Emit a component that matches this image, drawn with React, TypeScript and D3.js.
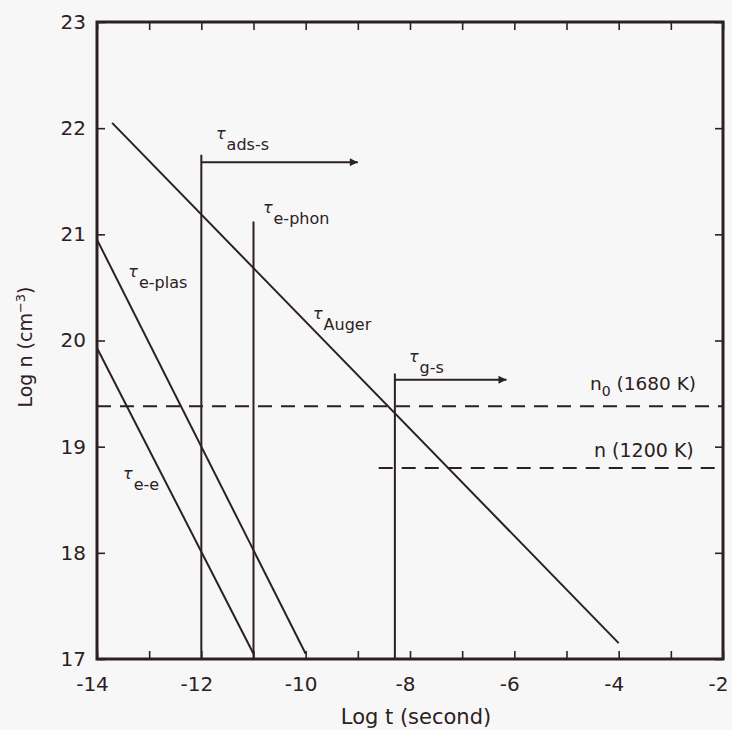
import React, { useEffect, useRef } from 'react';
import * as d3 from 'd3';

// sloped lifetime lines [logT, logN]
const augerLine = [[-13.71, 22.05], [-4, 17.15]];
const ePlasLine = [[-14, 20.95], [-10, 17.05]];
const eeLine = [[-14, 19.93], [-11, 17.05]];

// vertical markers: x position and top
const verticals = [
  { name: 'ads-s', x: -12, top: 21.75 },
  { name: 'e-phon', x: -11, top: 21.12 },
  { name: 'g-s', x: -8.29, top: 19.69 },
];

// arrows to the right
const arrows = [
  { name: 'ads-s', x0: -12, x1: -9.0, y: 21.68 },
  { name: 'g-s', x0: -8.29, x1: -6.15, y: 19.63 },
];

// dashed equilibrium densities
const dashed = [
  { name: 'n0', x0: -14, x1: -2, y: 19.38 },
  { name: 'n1200', x0: -8.6, x1: -2, y: 18.8 },
];

// tau labels: anchor in data space
const tauLabels = [
  { sub: 'ads-s', x: -11.72, y: 21.9 },
  { sub: 'e-phon', x: -10.82, y: 21.2 },
  { sub: 'e-plas', x: -13.4, y: 20.6 },
  { sub: 'e-e', x: -13.5, y: 18.7 },
  { sub: 'Auger', x: -9.86, y: 20.2 },
  { sub: 'g-s', x: -8.02, y: 19.8 },
];

const xTicks = [-14, -12, -10, -8, -6, -4, -2];
const xMinor = d3.range(-14, -1, 1);
const yTicks = [17, 18, 19, 20, 21, 22, 23];

const ink = '#2b2122';

function Chart() {
  const ref = useRef<SVGSVGElement>(null);

  useEffect(() => {
    const svg = d3.select(ref.current);
    svg.selectAll('*').remove();

    const x = d3.scaleLinear().domain([-14, -2]).range([97, 723]);
    const y = d3.scaleLinear().domain([17, 23]).range([659, 22]);
    const font = "'DejaVu Sans', sans-serif";

    // Axes, ticks inward
    const bottom = svg.append('g')
      .attr('transform', `translate(0, ${y(17)})`)
      .call(d3.axisBottom(x).tickValues(xMinor).tickSize(-8).tickPadding(18)
        .tickFormat((d) => (xTicks.includes(+d) ? String(d) : '')));

    const top = svg.append('g')
      .attr('transform', `translate(0, ${y(23)})`)
      .call(d3.axisTop(x).tickValues(xMinor).tickSize(-8).tickFormat(() => ''));

    const left = svg.append('g')
      .attr('transform', `translate(${x(-14)}, 0)`)
      .call(d3.axisLeft(y).tickValues(yTicks).tickSize(-8).tickPadding(11)
        .tickFormat((d) => String(d)));

    const right = svg.append('g')
      .attr('transform', `translate(${x(-2)}, 0)`)
      .call(d3.axisRight(y).tickValues(yTicks).tickSize(-8).tickFormat(() => ''));

    [bottom, top, left, right].forEach((g) => {
      g.select('.domain').remove();
      g.selectAll('line').attr('stroke', ink).attr('stroke-width', 1.6);
      g.selectAll('text').attr('fill', ink).style('font-family', font).style('font-size', '20px');
    });
    bottom.selectAll('text').attr('dx', -5);

    // frame
    svg.append('rect')
      .attr('x', x(-14)).attr('y', y(23))
      .attr('width', x(-2) - x(-14)).attr('height', y(17) - y(23))
      .attr('fill', 'none').attr('stroke', ink).attr('stroke-width', 3);

    const line = d3.line<number[]>().x((d) => x(d[0])).y((d) => y(d[1]));

    [augerLine, ePlasLine, eeLine].forEach((pts) => {
      svg.append('path').attr('d', line(pts)).attr('fill', 'none')
        .attr('stroke', ink).attr('stroke-width', 2);
    });

    svg.selectAll('.vert').data(verticals).enter().append('line')
      .attr('x1', (d) => x(d.x)).attr('x2', (d) => x(d.x))
      .attr('y1', y(17)).attr('y2', (d) => y(d.top))
      .attr('stroke', ink).attr('stroke-width', 2);

    // arrows
    svg.append('defs').append('marker')
      .attr('id', 'head').attr('viewBox', '0 0 10 10')
      .attr('refX', 10).attr('refY', 5)
      .attr('markerWidth', 12).attr('markerHeight', 8)
      .attr('markerUnits', 'userSpaceOnUse').attr('orient', 'auto')
      .append('path').attr('d', 'M0,0 L10,5 L0,10 Z').attr('fill', ink);

    svg.selectAll('.arrow').data(arrows).enter().append('line')
      .attr('x1', (d) => x(d.x0)).attr('x2', (d) => x(d.x1))
      .attr('y1', (d) => y(d.y)).attr('y2', (d) => y(d.y))
      .attr('stroke', ink).attr('stroke-width', 2)
      .attr('marker-end', 'url(#head)');

    svg.selectAll('.dash').data(dashed).enter().append('line')
      .attr('x1', (d) => x(d.x0)).attr('x2', (d) => x(d.x1))
      .attr('y1', (d) => y(d.y)).attr('y2', (d) => y(d.y))
      .attr('stroke', ink).attr('stroke-width', 2)
      .attr('stroke-dasharray', '14,9');

    // tau labels
    const tl = svg.selectAll('.tau').data(tauLabels).enter().append('text')
      .attr('x', (d) => x(d.x)).attr('y', (d) => y(d.y))
      .attr('fill', ink).style('font-family', font).style('font-size', '16px');
    tl.append('tspan').text('τ').style('font-style', 'italic');
    tl.append('tspan').attr('dy', 11).attr('dx', 1).text((d) => d.sub);

    // density labels
    const n0 = svg.append('text').attr('x', 590).attr('y', 390)
      .attr('fill', ink).style('font-family', font).style('font-size', '18.5px');
    n0.append('tspan').text('n');
    n0.append('tspan').attr('dy', 6).style('font-size', '14px').text('0');
    n0.append('tspan').attr('dy', -6).text(' (1680 K)');

    svg.append('text').attr('x', 594).attr('y', 457)
      .attr('fill', ink).style('font-family', font).style('font-size', '19px')
      .text('n (1200 K)');

    // axis titles
    svg.append('text').attr('x', 416).attr('y', 724)
      .attr('text-anchor', 'middle').attr('fill', ink)
      .style('font-family', font).style('font-size', '21px')
      .text('Log t (second)');

    const yl = svg.append('text')
      .attr('transform', 'translate(32, 347) rotate(-90)')
      .attr('text-anchor', 'middle').attr('fill', ink)
      .style('font-family', font).style('font-size', '19px');
    yl.append('tspan').text('Log n (cm');
    yl.append('tspan').attr('dy', -7).style('font-size', '13px').text('−3');
    yl.append('tspan').attr('dy', 7).text(')');
  }, []);

  return (
    <svg ref={ref} width={732} height={730}
      style={{ position: 'absolute', left: 0, top: 0, background: '#f8f7f7' }} />
  );
}

export default function App() {
  return <Chart />;
}
